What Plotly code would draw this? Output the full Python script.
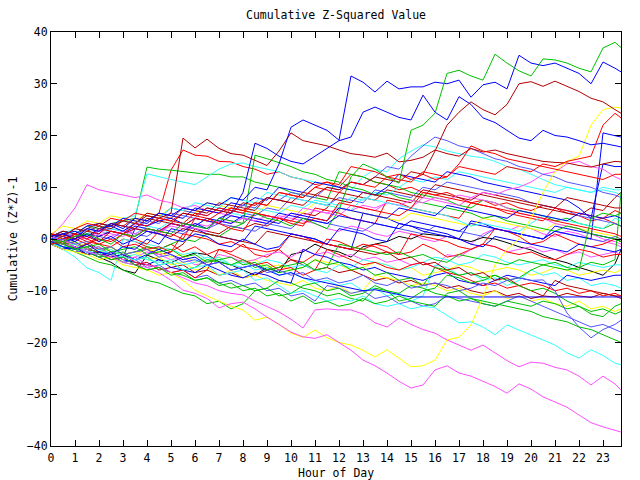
import plotly.graph_objects as go

# time axis: half-hour steps, final point at 23.75
hours = [i * 0.5 for i in range(48)] + [23.75]

RED, GREEN, BLUE = "#ff0000", "#00c000", "#0000ff"
MAGENTA, CYAN, DARKRED = "#ff50ff", "#33ffff", "#b00000"
YELLOW, LIGHTBLUE, BLACK = "#ffff00", "#5555ff", "#000000"

g1 = [0, -0.5, 0.5, 1, 0, -1, 1, 0.5,
      2, 1.5, 1, 3, 2.5, 2, 4, 3.5,
      3, 5, 4, 3.5, 2.5, 4, 3, 2,
      5.6, 12, 14.5, 13.5, 12, 10.8, 21, 22,
      24.3, 32, 32.6, 31.5, 30.7, 35.7, 34, 32.5,
      31.5, 34.8, 34.6, 34, 33, 32.3, 36.9, 38,
      37]
b1 = [0.5, 1, 0, 2, 1.5, 3, 2, 4,
      3.5, 5, 4.5, 6, 5.5, 7, 6.5, 8,
      7.5, 10, 9.5, 14.5, 21.6, 23, 22, 21,
      19.1, 31.5, 30.3, 28.4, 30.5, 29, 29.4, 29.4,
      30.3, 30, 30.7, 27.4, 29.8, 30.3, 29, 35.5,
      34, 33.5, 34, 33, 32, 30, 34.2, 33,
      32.3]
b2 = [-0.5, -1.5, -2, -1, -2.5, -3, -1.5, -2,
      0, -1, 2, 1.5, 3, 2, 4, 5,
      9, 18.5, 17.5, 16, 15, 14.5, 16, 17.5,
      19, 19.7, 24.5, 25.5, 24.5, 23.5, 23, 27.8,
      24.5, 23, 27.5, 26, 23.4, 22.5, 21, 19.5,
      19, 21, 20, 19.7, 19, 18.2, 18.5, 18,
      17.8]
dr1 = [1, 0.5, 2, 1.5, 1, 3, 2.5, 2,
       4, 3.5, 3, 5, 4.5, 6, 5.5, 5,
       7, 6.5, 8, 7.5, 7, 9, 8.5, 10,
       9.5, 11, 10.5, 12, 11.5, 11, 13, 12.5,
       17, 22, 24.5, 26.5, 25, 24, 26, 30,
       30.4, 29.5, 30.5, 29.5, 28.5, 27.2, 26.5, 25,
       24.3]
dr3 = [0.5, 1, 0, 1.5, 2.5, 2, 3.5, 3,
       4.5, 4, 5, 19.5, 17.6, 19.3, 17.5, 16.5,
       16.2, 15.2, 14.2, 17, 20.5, 19, 18.5, 18,
       17.2, 16.5, 16.2, 15.8, 16.6, 14.9, 15.2, 15.8,
       17.2, 16.5, 16, 17.5, 16.8, 17.2, 16.5, 16,
       15.5, 15, 14.8, 14.7, 14.2, 13.9, 14.5, 15,
       14.9]
r1 = [-1, -0.5, 1, 0, 2, 1.5, 1, 3,
      2.5, 4, 3.5, 3, 5, 4.5, 6, 5.5,
      5, 7, 6.5, 9, 8.5, 8, 10, 9.5,
      9, 11, 10.5, 10, 12, 11.5, 11, 13,
      12.5, 12, 14, 13.5, 13, 12.5, 14, 13.5,
      13, 14.5, 14, 15, 15.5, 16, 22, 24.3,
      23.4]
y2 = [-1, -2, -2.5, -3, -4, -3.5, -5, -5.5,
      -6, -7, -6.5, -8, -9.9, -11, -12, -13,
      -13.7, -15.7, -15.1, -16.5, -18.2, -19, -17.6, -19.1,
      -20, -20.5, -21.5, -22.8, -21.4, -23, -24.7, -24.5,
      -23.4, -19.5, -19, -16.6, -11.2, -5, -2, 0,
      4, 9, 13, 15, 16, 22, 25, 25.5,
      25.3]
m1 = [0, -1, -1.5, -2.5, -3, -3.5, -4.5, -5,
      -5.5, -6.5, -8, -9.9, -10.5, -11.5, -13.3, -12.5,
      -12.2, -13.5, -15.1, -16.5, -18, -18.9, -19.2, -18.5,
      -20, -21.5, -23.4, -24.5, -25.9, -27.5, -28.8, -28.2,
      -25.3, -24.5, -25.9, -26.5, -27.5, -28.5, -29.8, -28,
      -29, -30.5, -31.5, -32.5, -34, -35.5, -36.3, -37,
      -37.3]
m2 = [0.5, -0.5, -1, -2, -1.5, -3, -4, -3.5,
      -5, -5.5, -6.5, -7.5, -8.5, -9, -10, -10.5,
      -10.8, -12, -13, -14.1, -15.5, -17.2, -13.7, -13.5,
      -13.7, -13.7, -14.5, -16.2, -17, -15.3, -16.5, -17.5,
      -18.2, -19.5, -20.5, -21.5, -20.5, -22, -23.5, -24.7,
      -23.8, -24, -24.8, -25.3, -26.5, -28.2, -26.5, -28,
      -29.2]
c1 = [-0.5, -1.5, -1, -2.5, -3, -2, -3.5, -4,
      -3.5, -5, -4.5, -6, -5.5, -5, -7, -6.5,
      -6, -8, -7.5, -9, -10.5, -10, -11, -12,
      -11.5, -12, -11, -12.5, -13, -12.5, -13.5, -13,
      -13.3, -14.7, -16.2, -16, -17, -18.5, -16.6, -17.6,
      -18.5, -19.5, -20.5, -22, -23, -21.4, -22.5, -24,
      -24.3]
g2 = [0, -1, -2, -1.5, -3, -4, -3.5, -5,
      -6, -5.5, -7, -6.5, -8, -7.5, -9, -8.5,
      -10, -9.5, -11, -10.5, -12, -11, -12.5, -12,
      -13, -12.5, -11.5, -12.5, -12, -11, -12, -12.5,
      -13, -10.5, -10, -11.5, -12, -12.5, -13, -13.5,
      -14, -15, -15.5, -16, -17, -17.5, -18.5, -19.5,
      -20]
bf = [-1, -2, -1.5, -3, -2.5, -3.5, -3, -4,
      -3, -2, -3, -4, -3.5, -5, -4.5, -6,
      -5.5, -5, -6, -7, -6.5, -7.5, -8, -8.5,
      -9, -9.5, -10, -9.8, -10.3, -10.8, -11.2, -11.2,
      -11.2, -11.2, -11.2, -11.2, -11.2, -11.2, -11.2, -11.2,
      -11.2, -11.2, -11.2, -11.2, -11.2, -11.2, -11.2, -11.2,
      -11.2]
bk = [0, -1, -1.5, -2.5, -3.5, -4.5, -6, -6.6,
      -3.1, -4, -4.6, -3.5, -2.7, -3, -4.4, -5,
      -6, -7, -5.5, -6.5, -3, -2.5, -1, -2,
      -2.5, -3.5, -1.5, -1, -0.5, 0.5, 0, 1,
      0.8, 0.5, 0, -0.5, 0.3, 0, -0.7, -1.5,
      -2.1, -3, -4, -4.6, -5.5, -6.2, -7, -4.8,
      -2.1]
lb1 = [-0.5, 0, -1, -0.5, -2, -1.5, -3, -2.5,
       -2, -3.5, -3, -4.5, -4, -5, -4.5, -6,
       -5.5, -5, -6.5, -6, -7, -6.5, -8, -7.5,
       -8.5, -8, -7, -8.5, -9, -8, -9.5, -9,
       -8.5, -9, -10, -9.5, -8.5, -9, -8, -7.5,
       -8, -7.9, -10, -14.3, -17, -19.1, -17.5, -16.5,
       -15.7]
r2 = [0, 1, 0.5, 2, 1.5, 3, 2.5, 4,
      3.5, 5, 13.3, 17.2, 16.2, 16, 15, 14.9,
      14, 13.5, 12.5, 13, 12, 11.5, 10.5, 11,
      10, 12.5, 12, 11, 10.5, 9.5, 10, 9,
      8.5, 9, 8, 7, 7.5, 6.5, 7, 6,
      5.5, 6.5, 6, 5, 4.5, 3.5, 4, 3,
      2.5]
g3 = [0.5, 1.5, 1, 2.5, 2, 3, 3.5, 4,
      13.9, 13.5, 13.3, 13, 12.8, 12.5, 12.5, 12,
      12, 11, 10.5, 10, 9, 8.5, 8, 7.5,
      13, 12.5, 12, 11, 10.5, 10, 9, 8.5,
      8, 7.5, 6.5, 6, 7.5, 7, 6, 5.5,
      5, 4.5, 3.5, 4, 3, 2.5, 2, 3,
      2.5]
g4 = [-0.5, -1.5, -1, -2, -2.5, -1.5, -3, -2.5,
      -1.5, -2, -1, 0, -0.5, 1, 0.5, 2,
      3, 16.2, 15.5, 14.8, 14, 13, 12.5, 11.5,
      11, 10, 9.5, 8.5, 9, 8, 7.5, 7,
      6.5, 6, 5.5, 5, 4, 4.5, 3.5, 3,
      2.5, 2, 1.5, 2.5, 2, 1, 0.5, 0,
      -0.5]
c3 = [0.5, 1, 2, 1.5, 3, 2.5, 4, 4.5,
      12.6, 12, 11.5, 11, 10.5, 12, 13.5, 14.5,
      14.7, 14, 13.5, 13, 12, 11.5, 11, 10.5,
      10, 9.5, 12, 13.5, 13, 15.5, 17, 18.2,
      17.8, 17, 16.5, 16, 15.7, 15, 14, 13.5,
      12.5, 11.5, 10.5, 10, 9.5, 9, 9.5, 9,
      8.5]
r3 = [-1, -0.5, -2, -1, 0, -0.5, 1, 0.5,
      2, 1.5, 3, 2.5, 4, 3.5, 5, 6,
      5.5, 7, 6.5, 9, 8.5, 8, 10, 11,
      10.5, 14, 13.5, 13, 12, 12.5, 11.5, 12.5,
      11.5, 12, 14.5, 18, 17, 16.5, 15.5, 15,
      14.5, 14, 13.5, 13, 12.5, 12, 11.5, 12.5,
      12.5]
dr4 = [0, -0.5, -1.5, -1, -2, -1.5, -3, -2.5,
       -2, -3, -2.5, -1, 2, 1.5, 1, 2.5,
       2, 3, 2.5, 4, 3.5, 5, 4.5, 6,
       9, 8.5, 8, 7.5, 9.5, 9, 8.5, 8,
       10.5, 10, 9.5, 9, 8.5, 8, 7.5, 7,
       6.5, 6, 5.5, 5, 4.5, 6, 5.5, 8,
       9]
lb2 = [0.5, 0, 1, 0.5, 1.5, 2, 1.5, 3,
       2.5, 4, 6, 5.5, 5, 4.5, 6, 5.5,
       5, 4.5, 6, 5.5, 8, 7.5, 7, 6.5,
       8, 7.5, 7, 9.5, 9, 8.5, 8, 10,
       9.5, 11, 10.5, 10, 9.5, 9, 8.5, 8,
       7, 6.5, 6, 5.5, 4.5, 4, 3.5, 3,
       2.5]
m3 = [0.5, 3, 6, 10.5, 9.5, 9, 8.5, 8,
      8.5, 7.5, 7, 6, 6.5, 5.5, 5, 4.5,
      4, 3.5, 3, 4.5, 4, 3.5, 3, 2,
      1.5, 2.5, 2, 1, 0.5, 1.5, 1, 0,
      -0.5, 0.5, 0, -1, 1, 2, 1.5, 2.5,
      2, 1, 0.5, 1.5, 1, 0, -0.5, -1,
      -1.5]
b3 = [0, 0.5, -0.5, 1, 0.5, 1.5, 1, 2.5,
      2, 1.5, 3, 2.5, 4, 3.5, 3, 4.5,
      4, 3.5, 3, 5, 4.5, 4, 3.5, 3,
      4.5, 4, 3.5, 3, 2.5, 2, 3.5, 3,
      2.5, 2, 1.5, 3, 2.5, 2, 1.5, 1,
      0.5, 0, 1.5, 1, 0.5, 0, 20.5, 20,
      19.7]
g5 = [0, -1, -0.5, -2, -1.5, -3, -2.5, -4,
      -3.5, -5, -4.5, -6, -5.5, -4, -4.5, -5,
      -4, -5.5, -5, -6.5, -6, -5.5, -4, -5,
      -4.5, -6, -5.5, -7, -6.5, -8, -7.5, -9,
      -5.5, -6, -7, -6.5, -7.5, -7, -8, -7.5,
      -6, -5, -5.5, -6, -5.5, -4.5, -5, -4,
      9]
r4 = [-0.5, -1, 0.5, 0, -1, -1.5, 0, -0.5,
      -1.5, -2, -1, -2.5, -1.5, -3, -2, -2.5,
      -1, -3, -3.5, -2, -4, -4.5, -3, 0,
      -0.5, -1.5, -2, -1, -1.5, -3, -2.5, -1,
      -2, -3.5, -3, -2, -1, 2, 1.5, 0.5,
      -1, -0.5, 1, 0, -1, -1.5, -1, 0,
      -0.5]
b4 = [-1, -2, -1.5, -3, -2.5, -4, -3.5, 2,
      1.5, 1, 3, 2.5, 2, 1, 0.5, 0,
      -0.5, 2.5, 2, 1.5, 1, 0.5, 0, -1,
      -1.5, -2, 5, 4.5, 4, 3, 2.5, 2,
      1.5, 1, 0, 3.5, 3, 2, 1.5, 1,
      0.5, 0, 2.5, 2, 1.5, 1, 0.5, 0,
      -0.5]
c4 = [-0.5, -2, -3.5, -5.6, -6.5, -8, 0, -0.5,
      -1, -1.5, -2, -3, -2.5, -4, -3.5, -5,
      -4.5, -6, -5.5, -7, -6.5, -7.5, -8.5, -8,
      -9, -8.5, -10, -9.5, -11, -10.5, -12, -11,
      -5, -5.5, -7, -6.5, -8, -7.5, -9, -8,
      -6, -7, -6.5, -8, -7.5, -9, -8.5, -9,
      -9.5]
y3 = [0.5, 0, -1, -0.5, -2, -1.5, -3, -2.5,
      -4, -3.5, -5, -4.5, -6, -5.5, -7, -6,
      -7.5, -7, -8, -8.5, -9, -8, -9.5, -10,
      -9, -10.5, -10, -7, -7.5, -8, -9, -8.5,
      -9, -10, -9.5, -10.5, -11, -10, -11.5, -11,
      -12, -11.5, -12.5, -13, -12, -13.5, -13, -14,
      -13.5]
y4 = [1, 2.5, 2, 3.5, 3, 4.5, 4, 3.5,
      5, 4.5, 6, 5.5, 5, 7, 6.5, 6,
      5.5, 5, 6.5, 6, 5.5, 5, 7, 6.5,
      6, 5.5, 5, 4.5, 4, 3.5, 5, 4.5,
      4, 3.5, 3, 2.5, 4, 3.5, 3, 2.5,
      2, 1.5, 3, 2.5, 2, 1.5, 1, 0.5,
      0]
dr5 = [-0.5, -1.5, -2, -3, -2.5, -4, -3.5, -5,
       -4.5, -6, -5.5, -5, -6.5, -6, -7, -6.5,
       -7.5, -7, -6, -5.5, -4, -5, -6, -5.5,
       -6.5, -6, -7, -8, -7.5, -8.5, -8, -9,
       -8.5, -9.5, -9, -10, -10.5, -10, -11, -10.5,
       -11.5, -11, -11.2, -10.5, -11, -11.3, -10.5, -11,
       -11]
g6 = [-0.5, -1.5, -2.5, -3.5, -4.5, -5, -6, -7,
      -8, -8.5, -9.5, -10.5, -11, -12.5, -12, -13.5,
      -12.5, -10, -9.5, -11, -10.5, -9, -8.5, -10,
      -9.5, -11, -10.5, -9, -10, -12, -11.5, -10,
      -9.5, -7, -7.5, -8.5, -8, -7, -8, -9,
      -10, -9.5, -10.5, -12, -13, -14.5, -15, -13,
      -12.5]
r5 = [0, -1, -0.5, -2, -2.5, -3.5, -3, -4.5,
      -5, -5.5, -6.5, -6, -7.5, -6, -2, -3,
      -4, -5, -4.5, -6, -5.5, -7, -6, -2,
      -3, -4, -5, -4.5, -5.5, -6, -5, -4.5,
      -5.5, -6.5, -7, -8, -9, -8.5, -9.5, -9,
      -8.5, -9, -10, -9.5, -10.5, -10, -11, -10.5,
      -11]
c5 = [0, 0.5, 1.5, 1, 2.5, 2, 3.5, 3,
      4.5, 4, 6, 5.5, 7, 6.5, 6, 8,
      7.5, 7, 9, 8.5, 8, 7.5, 7, 6.5,
      6, 5.5, 8, 7.5, 7, 6.5, 6, 5.5,
      5, 4.5, 3.5, 2.5, 3, 2.5, 2, 1.5,
      3, 4.5, 4, 3.5, 3, 2.5, 2, 4,
      3.5]
b5 = [0.5, 1.5, 1, 2.5, 3, 2.5, 4, 3.5,
      3, 5, 4.5, 4, 6, 5.5, 5, 7,
      6.5, 8, 7.5, 10, 9.5, 9, 11, 10.5,
      10, 9.5, 9, 8.5, 10, 12.5, 12, 11.5,
      11, 13, 12.5, 12, 11, 10.5, 10, 9.5,
      9, 8.5, 8, 7.5, 6, 4, 14.5, 14,
      14]
lb3 = [0, 1, 0.5, 2, 1.5, 3, 2.5, 2,
       3.5, 3, 5, 4.5, 4, 6, 5.5, 5,
       6.5, 6, 8, 7.5, 9, 8.5, 8, 10,
       9.5, 11, 10.5, 12, 14, 13.5, 16, 18,
       19.7, 19, 18, 17.5, 16.5, 15.5, 15, 14,
       13.5, 12.5, 12, 11, 10.5, 10, 9, 8.5,
       8]
m4 = [-0.5, -1, -2, -1.5, -3, -2.5, -4, -3.5,
      -2.5, -3, -4, -3.5, -5, -4.5, -3, -3.5,
      -4.5, -4, -3, -2.5, -3.5, -2, -3, -2.5,
      -3.5, -3, -4, -3.5, -4.5, -4, -5, -4.5,
      -5.5, -3, -3.5, -2, -1, -1.5, -2.5, -2,
      -1.5, -2.5, -2, -3, -2.5, -3.5, -3, -2.5,
      -3]
m5 = [0, -0.5, 0.5, 0, 1, 0.5, 1.5, 1,
      2, 1.5, 2.5, 2, 3, 2.5, 3.5, 3,
      4, 3.5, 4.5, 4, 5, 4.5, 5.5, 5,
      6, 5.5, 6.5, 6, 7, 6.5, 7.5, 7,
      8, 7.5, 8.5, 8, 9, 8.5, 9.5, 10,
      11, 12.5, 13, 14.5, 15, 14, 13.5, 12,
      11.5]
r6 = [1, 0.5, 2, 3, 2.5, 4, 3.5, 5,
      4.5, 4, 3.5, 5, 4.5, 4, 3, 6,
      5.5, 5, 4.5, 4, 3.5, 3, 4, 3.5,
      7, 6.5, 6, 5.5, 5, 4.5, 6, 9,
      8.5, 8, 7.5, 7, 6.5, 6, 5.5, 5,
      4.5, 4, 3.5, 3, 2.5, 2, 1.5, 1,
      0.5]
g7 = [-1, -0.5, -2, -1.5, -1, -2.5, -2, -1.5,
      -3, -2.5, -2, -3.5, -3, -4.5, -4, -3.5,
      -5, -4.5, -6, -5.5, -5, -4.5, -6, -5.5,
      -1, -1.5, -2, -2.5, -3, -2.5, -3.5, -3,
      -4, -4.5, -3, -3.5, -4, -4.5, -5, -4,
      -4.5, -5, -4.5, -5.5, -6, 4, 5, 4.5,
      5]
dr6 = [-0.5, 0, 1, 0.5, -0.5, 1.5, 1, 2,
       1.5, 1, 0.5, 2, 1.5, 1, 0.5, 0,
       -0.5, -1, 1.5, 1, 0.5, 0, -0.5, -1,
       -1.5, -2, -2.5, -3, -2.5, -4, -3.5, -5,
       -4.5, -6, -5.5, -7, -6.5, -8, -7.5, -9,
       -10, -11, -8, -9, -9.5, -10, -10.5, -11,
       -11.5]
lb4 = [-1, -1.5, -2.5, -2, -3.5, -3, -4.5, -4,
       -5.5, -5, -6.5, -6, -7.5, -7, -8.5, -8,
       -9, -8.5, -10, -9.5, -11, -10.5, -12, -9,
       -9.5, -10.5, -10, -11.5, -11, -12.5, -12, -13,
       -12.5, -11, -11.5, -12, -12.5, -13, -12, -11,
       -12, -13, -14, -15, -16, -17, -16.5, -17.5,
       -18]
m6 = [0, 0.5, 1, 0, 1.5, 1, 0.5, 2,
      1.5, 1, 3, 2.5, 2, 1.5, 4, 3.5,
      3, 5, 4.5, 4, 3.5, 6, 5.5, 5,
      4.5, 6.5, 6, 5.5, 7, 6.5, 6, 8,
      7.5, 7, 6.5, 8, 7.5, 7, 6, 5,
      4.5, 4, 3, 2.5, 2, 1, 0, -0.5,
      -1]
c6 = [0, -0.5, 0.5, 1, 0.5, 2, 1.5, 1,
      2.5, 2, 3.5, 3, 2.5, 4, 3.5, 5,
      4.5, 6, 5.5, 5, 6.5, 6, 7.5, 7,
      6.5, 8, 7.5, 9, 8.5, 10, 11.5, 11,
      12, 11.5, 13, 12.5, 12, 11.5, 11, 10.5,
      10, 9.5, 9, 10, 9.5, 9, 10, 9.5,
      9.5]
r7 = [-0.5, 0.5, 0, -1, 0.5, 1.5, 1, 0,
      -1, 1.5, 1, 0, 4, 3.5, 3, 2,
      1.5, 5, 4.5, 4, 3, 2.5, 6, 5.5,
      5, 4, 3.5, 3, 7.5, 7, 6, 5.5,
      5, 4.5, 4, 7, 6.5, 6, 5, 4.5,
      4, 3.5, 6, 5.5, 5, 4.5, 4, 5.5,
      5]
b6 = [0, -1, -1.5, -2.5, -3, -2.5, -4, -4.5,
      -5, -4, -5.5, -6, -6.5, -5, -6, -7,
      -7.5, -6.5, -7, -8, -8.5, -2, -3, -3.5,
      -4.5, -5, -6, -5.5, -6.5, -7, -7.5, -8,
      -7, -6.5, -8, -8.5, -9, -8, -7, -7.5,
      -8, -8.5, -9, -7, -7.5, -8, -7.5, -7,
      -7]
b7 = [0.5, -0.5, 0, 1, -0.5, 0.5, -1, 0,
      1.5, 1, 0, -0.5, 1, 0.5, -1, -1.5,
      0, -1, -2, -1.5, 1, 0.5, 0, -1,
      2, 1.5, 1, 0, -0.5, 3, 2.5, 1.5,
      1, 0.5, 0, -1, -1.5, 0.5, 0, -0.5,
      -1, -1.5, -2, -2.5, -1, -1.5, -2, -2.5,
      -2]
g8 = [-0.5, -1, -2, -2.5, -3.5, -3, -4.5, -5,
      -6, -5.5, -6.5, -7, -8, -7.5, -8.5, -9.5,
      -9, -10, -9.5, -8, -8.5, -9.5, -10, -11,
      -10.5, -11.5, -12, -9.5, -10, -10.5, -9, -9.5,
      -10.5, -11, -12, -11.5, -12.5, -13, -12, -12.5,
      -13, -12, -12.5, -13.5, -13, -14, -13.5, -14.5,
      -14]
lb5 = [0, 0.5, -0.5, 1, 0.5, 0, 1.5, 1,
       0.5, 2, 1.5, 1, 2.5, 2, 3, 2.5,
       2, 1.5, 3, 2.5, 2, 4, 3.5, 3,
       2.5, 2, 1.5, 3, 2.5, 2, 1.5, 1,
       2.5, 2, 1.5, 1, 0.5, 2, 1.5, 1,
       0.5, 0, 1.5, 1, 0.5, 0, -0.5, 0.5,
       0]
dr7 = [0.5, 1.5, 1, 2, 3, 2.5, 3.5, 3,
       5, 4.5, 4, 6, 5.5, 5, 7, 6.5,
       6, 5.5, 8, 7.5, 7, 6.5, 8.5, 8,
       7.5, 7, 9, 8.5, 8, 7.5, 7, 9.5,
       9, 8.5, 8, 7.5, 9, 8.5, 8, 7.5,
       7, 6.5, 6, 8, 7.5, 7, 6.5, 6,
       6]
y5 = [0, -0.5, -1.5, -1, -2.5, -2, -3.5, -3,
      -2, -2.5, -3.5, -3, -4.5, -4, -3.5, -5,
      -4.5, -4, -5.5, -5, -6, -5.5, -4, -4.5,
      -5, -6, -5.5, -4.5, -5, -6, -5.5, -7,
      -6.5, -6, -5, -5.5, -6.5, -6, -5.5, -6,
      -7, -6.5, -5.5, -6, -7, -6.5, -6, -6.5,
      -6]
r8 = [1, 0, 0.5, -0.5, -1, 0, -1.5, -1,
      -2, -1.5, -2.5, 1, 0.5, 0, -1, -0.5,
      -1.5, -2, -2.5, -2, 1, 0.5, -0.5, -1,
      -1.5, -2, -1, -1.5, -2.5, -3, 1, 0.5,
      0, -0.5, -1.5, -2, -1, -1.5, -2.5, -3,
      -2.5, -3.5, -4, -3, -2, -2.5, -3.5, -3,
      -3]
b8 = [0, 1, 1.5, 0.5, 2, 2.5, 1.5, 3,
      2.5, 3.5, 4, 3, 2.5, 4, 3.5, 3,
      4.5, 4, 3.5, 3, 5, 4.5, 4, 3.5,
      6, 5.5, 5, 4.5, 4, 6, 5.5, 5,
      4.5, 6.5, 6, 5.5, 5, 4.5, 4, 5.5,
      5, 4.5, 4, 3.5, 5, 4.5, 4, 4.5,
      4]
c7 = [-1, -1.5, -2, -2.5, -2, -3, -3.5, -3,
      -4, -4.5, -4, -5, -4.5, -3.5, -4, -5,
      -5.5, -5, -4, -4.5, -5.5, -5, -6, -6.5,
      -5, -5.5, -4, -4.5, -5, -6, -5.5, -4.5,
      -3.5, -4, -5, -4.5, -3, -3.5, -4.5, -5,
      -4.5, -4, -5, -5.5, -4.5, -5, -5.5, -5,
      -5]

series = [
    (r2, RED), (g3, GREEN), (b4, BLUE), (m3, MAGENTA), (c3, CYAN),
    (dr4, DARKRED), (y4, YELLOW), (bk, BLACK), (lb2, LIGHTBLUE),
    (m6, MAGENTA), (c6, CYAN), (y5, YELLOW), (lb5, LIGHTBLUE),
    (r4, RED), (g4, GREEN), (b5, BLUE), (m4, MAGENTA), (c4, CYAN),
    (dr5, DARKRED), (y3, YELLOW), (lb4, LIGHTBLUE),
    (r7, RED), (g8, GREEN), (b6, BLUE), (c7, CYAN), (dr7, DARKRED),
    (r5, RED), (g5, GREEN), (b3, BLUE), (m5, MAGENTA), (c5, CYAN),
    (dr6, DARKRED), (lb3, LIGHTBLUE), (r8, RED), (b7, BLUE), (b8, BLUE),
    (r6, RED), (g6, GREEN), (bf, BLUE), (m2, MAGENTA), (c1, CYAN),
    (dr3, DARKRED), (y2, YELLOW), (lb1, LIGHTBLUE),
    (r3, RED), (g7, GREEN), (b2, BLUE), (m1, MAGENTA),
    (dr1, DARKRED), (r1, RED), (g2, GREEN), (b1, BLUE), (g1, GREEN),
]

for vals, _ in series:
    assert len(vals) == len(hours), len(vals)

FONT = "DejaVu Sans Mono"
TXT = dict(family=FONT, size=11.5, color="black")

fig = go.Figure()
for vals, col in series:
    fig.add_trace(go.Scatter(x=hours, y=vals, mode="lines",
                             line=dict(color=col, width=1),
                             hoverinfo="skip", showlegend=False))

axis_common = dict(showline=True, linecolor="black", linewidth=1,
                   mirror="ticks", ticks="inside", ticklen=6,
                   tickcolor="black", showgrid=False, zeroline=False,
                   automargin=False, tickfont=TXT)

fig.update_layout(
    width=640, height=480,
    margin=dict(l=51, r=19, t=32, b=34),
    paper_bgcolor="white", plot_bgcolor="white",
    title=dict(text="Cumulative Z-Squared Value", x=0.5, xref="paper",
               y=1 - 15 / 480, yref="container", yanchor="middle",
               xanchor="center", font=TXT),
    xaxis=dict(range=[0, 23.75], tickmode="linear", tick0=0, dtick=1,
               ticklabelstandoff=1, **axis_common),
    yaxis=dict(range=[-40, 40], tickmode="linear", tick0=-40, dtick=10,
               title=dict(text="Cumulative (Z*Z)-1", standoff=6, font=TXT),
               **axis_common),
    annotations=[dict(text="Hour of Day", xref="paper", yref="paper",
                      x=0.5, y=-27 / 414, xanchor="center",
                      yanchor="middle", showarrow=False, font=TXT)],
)

fig.write_html("out.html")
